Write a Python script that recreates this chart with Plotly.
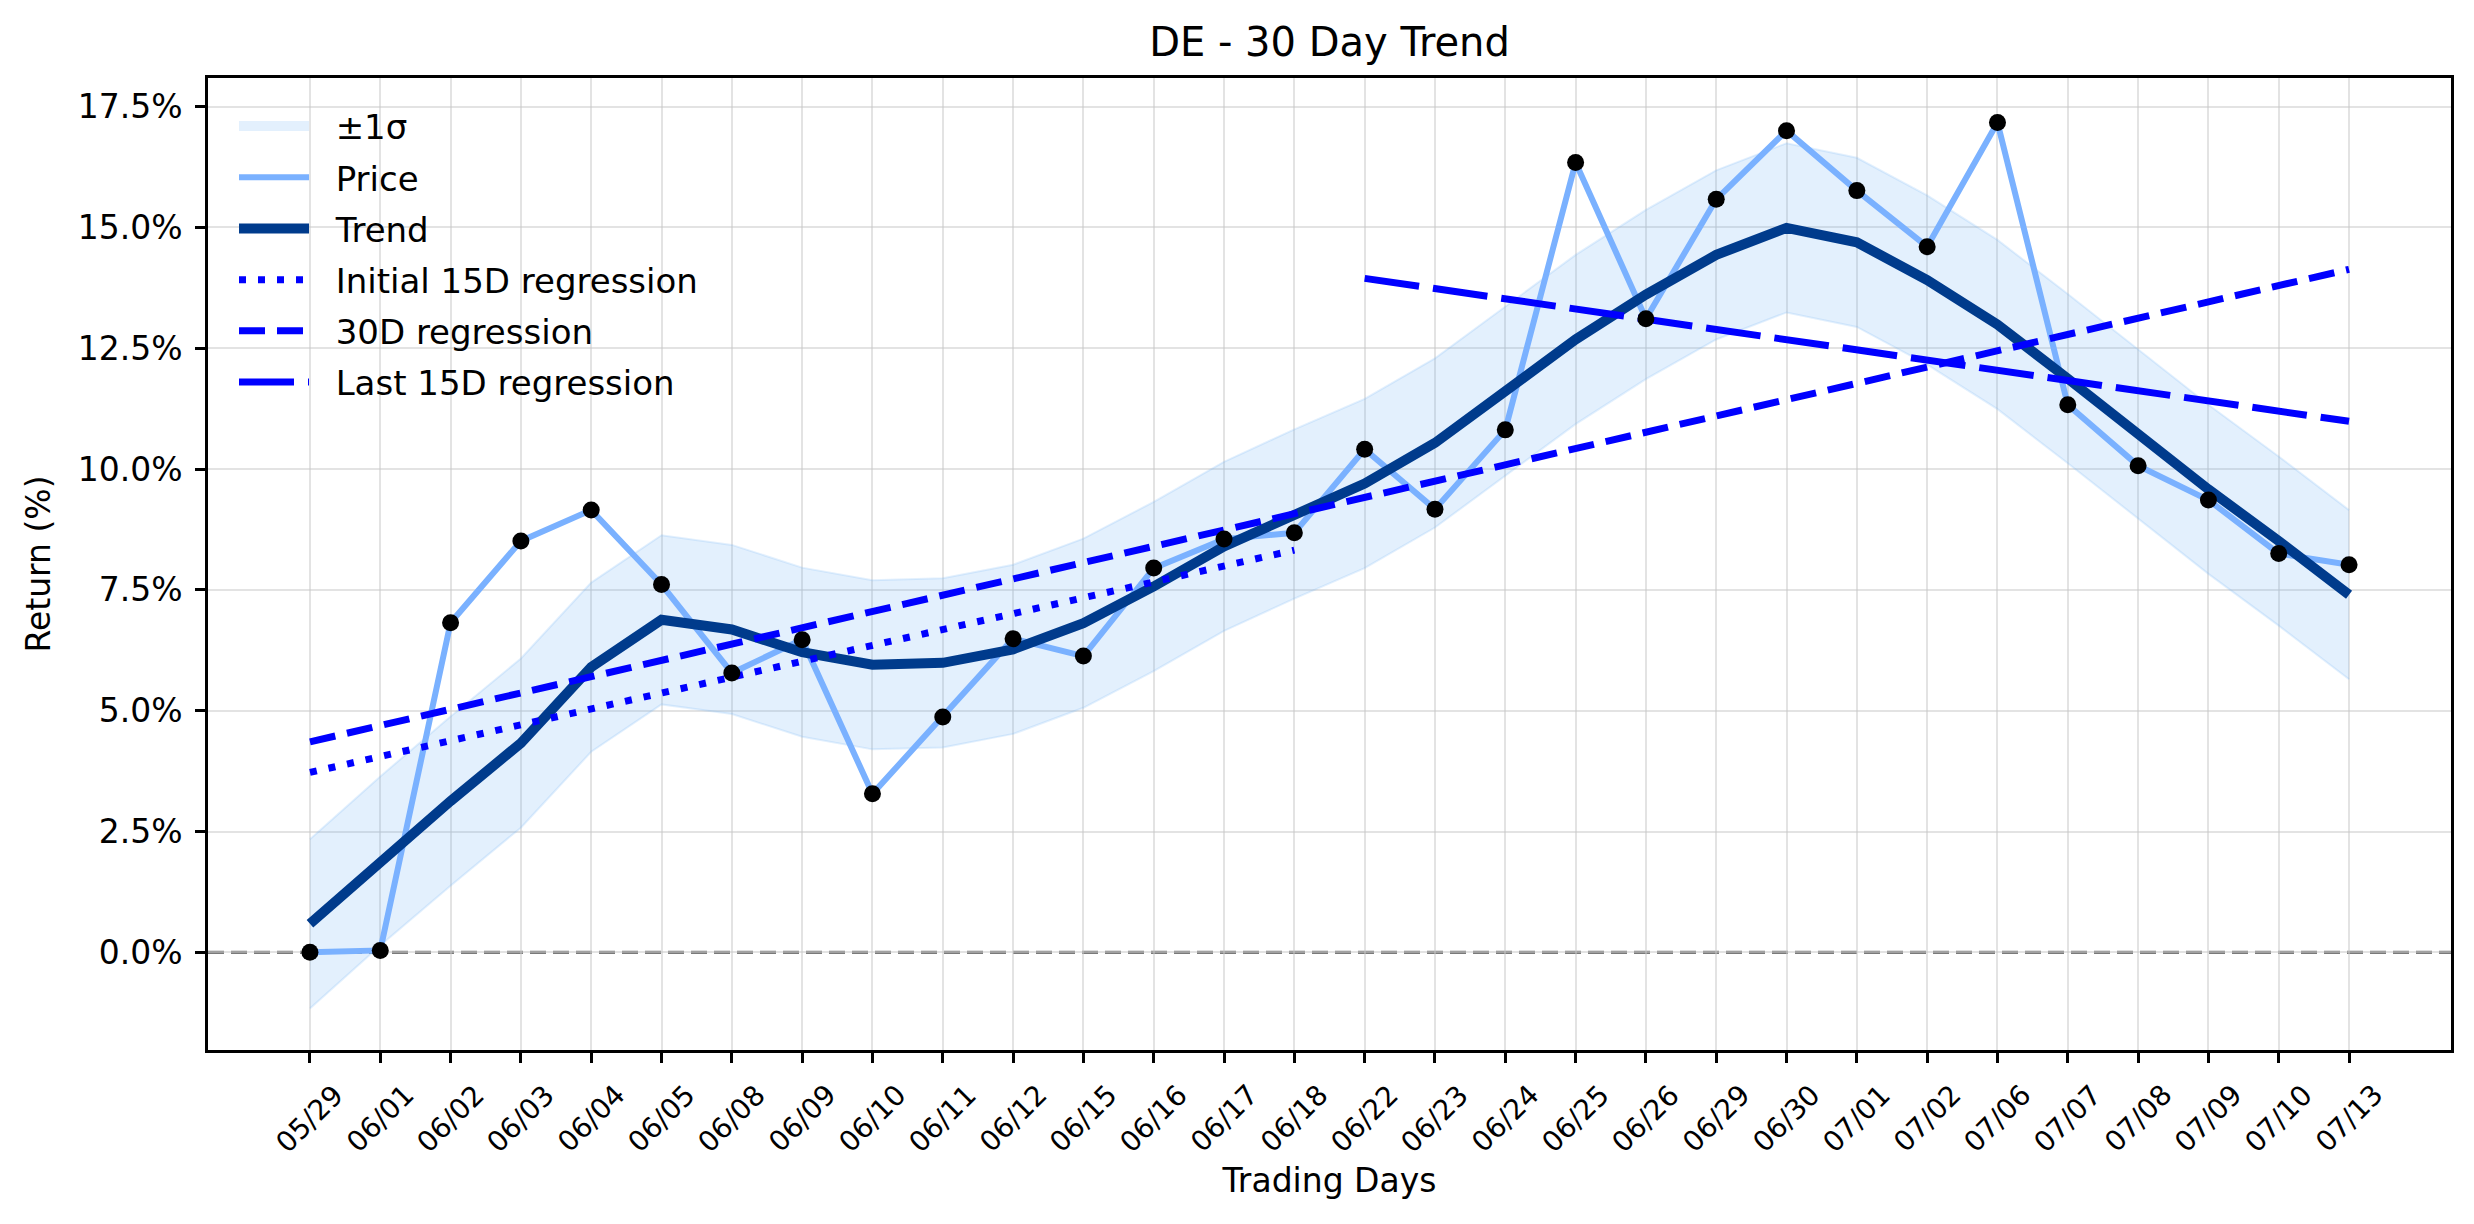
import numpy as np
import plotly.graph_objects as go

# ---------------- data ----------------
dates = ["05/29", "06/01", "06/02", "06/03", "06/04", "06/05", "06/08", "06/09",
         "06/10", "06/11", "06/12", "06/15", "06/16", "06/17", "06/18", "06/22",
         "06/23", "06/24", "06/25", "06/26", "06/29", "06/30", "07/01", "07/02",
         "07/06", "07/07", "07/08", "07/09", "07/10", "07/13"]

price = [0.00, 0.04, 6.82, 8.51, 9.15, 7.61, 5.78, 6.47, 3.28, 4.87,
         6.49, 6.13, 7.95, 8.55, 8.68, 10.41, 9.17, 10.81, 16.34, 13.11,
         15.58, 17.00, 15.76, 14.60, 17.17, 11.33, 10.07, 9.36, 8.25, 8.02]

trend = [0.59, 1.89, 3.13, 4.33, 5.90, 6.88, 6.68, 6.21, 5.95, 5.99,
         6.27, 6.81, 7.57, 8.40, 9.07, 9.70, 10.54, 11.61, 12.68, 13.61,
         14.43, 14.99, 14.69, 13.91, 12.99, 11.87, 10.72, 9.58, 8.51, 7.40]

sigma = 1.75  # half-width of the ±1σ band

y_ticks = [0.0, 2.5, 5.0, 7.5, 10.0, 12.5, 15.0, 17.5]

# ---------------- derived ----------------
n = len(dates)
idx = np.arange(n)
trend_a = np.array(trend)
upper = trend_a + sigma
lower = trend_a - sigma

def reg(i0, i1):
    xs = idx[i0:i1]
    k, b = np.polyfit(xs, np.array(price[i0:i1]), 1)
    return [dates[i] for i in xs], list(k * xs + b)

x_init, y_init = reg(0, 15)
x_all, y_all = reg(0, n)
x_last, y_last = reg(15, n)

FONT = "DejaVu Sans"
band_col = "rgba(115,180,245,0.2)"
SP = "\u00a0\u00a0"  # gap between legend handle and text

fig = go.Figure()

fig.add_trace(go.Scatter(x=dates, y=list(lower), mode="lines",
                         line=dict(color=band_col, width=2),
                         showlegend=False, hoverinfo="skip"))
fig.add_trace(go.Scatter(x=dates, y=list(upper), mode="lines", fill="tonexty",
                         fillcolor=band_col, line=dict(color=band_col, width=2),
                         showlegend=False, hoverinfo="skip"))
# legend entry for the band (drawn as a wide bar)
fig.add_trace(go.Scatter(x=[None], y=[None], mode="lines",
                         line=dict(color="rgba(115,180,245,0.2)", width=27),
                         name=SP + "±1σ", legendgroup="g0"))
fig.add_trace(go.Scatter(x=dates, y=price, mode="lines",
                         line=dict(color="#7AB1FF", width=6),
                         name=SP + "Price", legendgroup="g1"))
fig.add_trace(go.Scatter(x=dates, y=trend, mode="lines",
                         line=dict(color="#003B8C", width=10),
                         name=SP + "Trend", legendgroup="g2"))
fig.add_trace(go.Scatter(x=x_init, y=y_init, mode="lines",
                         line=dict(color="#0000FF", width=7, dash="7px,12px"),
                         name=SP + "Initial 15D regression", legendgroup="g3"))
fig.add_trace(go.Scatter(x=x_all, y=y_all, mode="lines",
                         line=dict(color="#0000FF", width=7, dash="26px,12px"),
                         name=SP + "30D regression", legendgroup="g4"))
fig.add_trace(go.Scatter(x=x_last, y=y_last, mode="lines",
                         line=dict(color="#0000FF", width=7, dash="55px,14px"),
                         name=SP + "Last 15D regression", legendgroup="g5"))
fig.add_trace(go.Scatter(x=dates, y=price, mode="markers",
                         marker=dict(color="black", size=17),
                         showlegend=False, hoverinfo="skip"))

# zero reference line
fig.add_shape(type="line", xref="paper", x0=0, x1=1, yref="y", y0=0, y1=0,
              line=dict(color="#7A7A7A", width=3.2, dash="16px,7px"),
              layer="between")

# rotated category labels (centred under each tick)
for d in dates:
    fig.add_annotation(x=d, xref="x", y=-0.026, yref="paper", text=d,
                       showarrow=False, textangle=-45, xanchor="center",
                       yanchor="top", font=dict(family=FONT, size=28, color="black"))

fig.update_layout(
    width=2474, height=1224,
    margin=dict(l=208, r=23, t=78, b=174),
    paper_bgcolor="white", plot_bgcolor="white",
    font=dict(family=FONT, size=33, color="black"),
    title=dict(text="DE - 30 Day Trend", x=0.5, xref="paper", y=1 - 42 / 1224,
               yref="container", xanchor="center", yanchor="middle",
               font=dict(family=FONT, size=40, color="black")),
    showlegend=True,
    legend=dict(x=0.0116, y=0.980, xanchor="left", yanchor="top",
                bgcolor="rgba(0,0,0,0)", borderwidth=0,
                font=dict(family=FONT, size=34, color="black"),
                itemwidth=70, traceorder="grouped", tracegroupgap=4),
)

fig.update_xaxes(
    type="category", range=[-1.45, n - 1 + 1.45],
    showgrid=True, gridcolor="rgba(200,200,200,0.5)", gridwidth=2,
    showline=True, linecolor="black", linewidth=2.5, mirror=True,
    ticks="outside", ticklen=10, tickwidth=2.5, tickcolor="black",
    showticklabels=False, zeroline=False,
    title=dict(text="Trading Days", standoff=108,
               font=dict(family=FONT, size=33, color="black")),
)
fig.update_yaxes(
    range=[-2.02, 18.09], tickvals=y_ticks,
    ticktext=[f"{v:.1f}%" for v in y_ticks],
    showgrid=True, gridcolor="rgba(200,200,200,0.5)", gridwidth=2,
    showline=True, linecolor="black", linewidth=2.5, mirror=True,
    ticks="outside", ticklen=10, tickwidth=2.5, tickcolor="black",
    ticklabelstandoff=6, zeroline=False,
    tickfont=dict(family=FONT, size=33, color="black"),
    title=dict(text="Return (%)", standoff=18,
               font=dict(family=FONT, size=33, color="black")),
)

fig.write_html("out.html")
